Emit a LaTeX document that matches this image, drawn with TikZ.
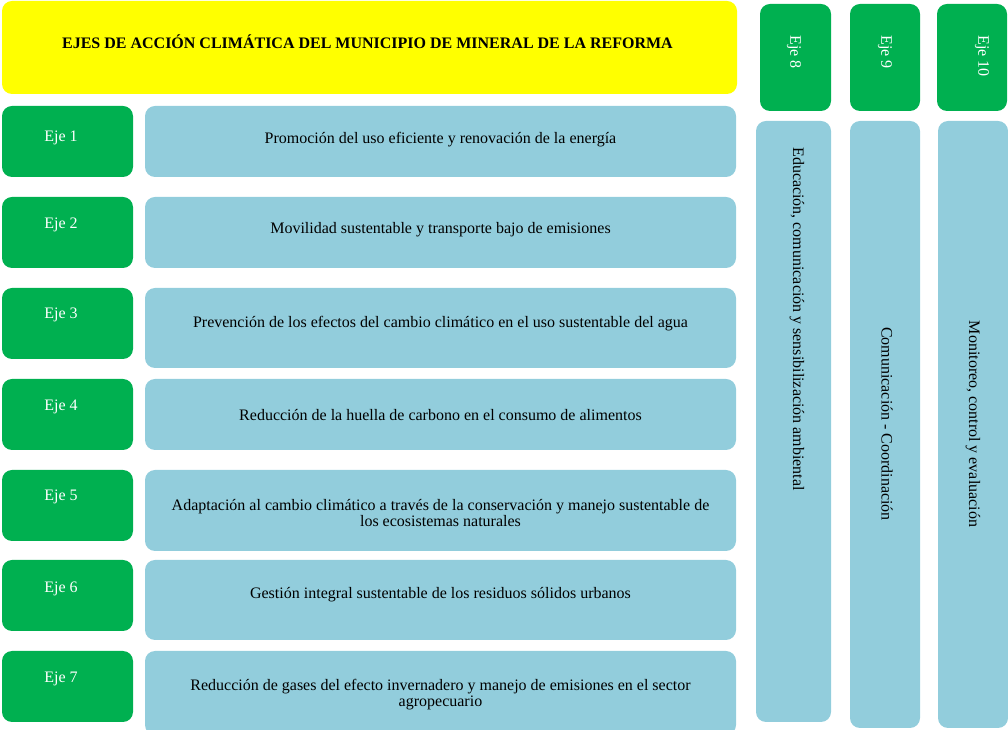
\documentclass[tikz,border=0pt]{standalone}
\usepackage{fontspec}
\setmainfont{Liberation Serif}
\usepackage{xcolor}
\usepackage{tikz}
\definecolor{ejegreen}{HTML}{00B050}
\definecolor{temablue}{HTML}{92CDDC}
\definecolor{titleyellow}{HTML}{FFFF00}
\tikzset{
  box/.style={inner sep=0pt, outer sep=0pt, rounded corners=7.5pt},
  titlebox/.style={box, fill=titleyellow, minimum width=735*0.75pt, minimum height=93*0.75pt},
  ejebox/.style={box, fill=ejegreen, minimum width=131*0.75pt, minimum height=71*0.75pt},
  ejecol/.style={box, fill=ejegreen, minimum height=107*0.75pt},
  temabox/.style={box, fill=temablue, minimum width=591*0.75pt},
  temacol/.style={box, fill=temablue},
  ejelab/.style={text=white, font=\fontsize{12}{12}\selectfont, inner sep=0pt},
  lab/.style={text=black, font=\fontsize{12}{12}\selectfont, align=center, inner sep=0pt},
  titlelab/.style={text=black, font=\fontsize{12}{12}\selectfont\bfseries, inner sep=0pt},
}

\begin{document}
\begin{tikzpicture}[x=0.75pt, y=-0.75pt]
  \useasboundingbox (0,0) rectangle (1008,730);
  % title
  \node[titlebox] (title) at (369.5,47.5) {};
  \node[titlelab] (titletxt) at (367.5,42) {EJES DE ACCIÓN CLIMÁTICA DEL MUNICIPIO DE MINERAL DE LA REFORMA};
  % ejes 1-7 (left)
  \node[ejebox] (e1) at (67.5,141.5) {};
  \node[ejebox] (e2) at (67.5,232.5) {};
  \node[ejebox] (e3) at (67.5,323.5) {};
  \node[ejebox] (e4) at (67.5,414.5) {};
  \node[ejebox] (e5) at (67.5,505.5) {};
  \node[ejebox] (e6) at (67.5,595.5) {};
  \node[ejebox] (e7) at (67.5,686.5) {};
  \node[ejelab] (e1txt) at (61,138) {Eje 1};
  \node[ejelab] (e2txt) at (61,225) {Eje 2};
  \node[ejelab] (e3txt) at (61,315) {Eje 3};
  \node[ejelab] (e4txt) at (61,407) {Eje 4};
  \node[ejelab] (e5txt) at (61,497) {Eje 5};
  \node[ejelab] (e6txt) at (61,589) {Eje 6};
  \node[ejelab] (e7txt) at (61,679) {Eje 7};
  % temas
  \node[temabox, minimum height=71*0.75pt] (t1) at (440.5,141.5) {};
  \node[temabox, minimum height=71*0.75pt] (t2) at (440.5,232.5) {};
  \node[temabox, minimum height=80*0.75pt] (t3) at (440.5,328) {};
  \node[temabox, minimum height=71*0.75pt] (t4) at (440.5,414.5) {};
  \node[temabox, minimum height=81*0.75pt] (t5) at (440.5,510.5) {};
  \node[temabox, minimum height=80*0.75pt] (t6) at (440.5,600) {};
  \node[temabox, minimum height=84*0.75pt] (t7) at (440.5,693) {};
  \node[lab] (t1txt) at (440.5,140) {Promoción del uso eficiente y renovación de la energía};
  \node[lab] (t2txt) at (440.5,230) {Movilidad sustentable y transporte bajo de emisiones};
  \node[lab] (t3txt) at (440.5,324) {Prevención de los efectos del cambio climático en el uso sustentable del agua};
  \node[lab] (t4txt) at (440.5,415) {Reducción de la huella de carbono en el consumo de alimentos};
  \node[lab] (t5txt) at (440.5,513) {Adaptación al cambio climático a través de la conservación y manejo sustentable de\\los ecosistemas naturales};
  \node[lab] (t6txt) at (440.5,595) {Gestión integral sustentable de los residuos sólidos urbanos};
  \node[lab] (t7txt) at (440.5,695) {Reducción de gases del efecto invernadero y manejo de emisiones en el sector\\agropecuario};
  % ejes 8-10 (columns)
  \node[ejecol, minimum width=71*0.75pt] (e8) at (795.5,57.5) {};
  \node[ejecol, minimum width=70*0.75pt] (e9) at (885,57.5) {};
  \node[ejecol, minimum width=70*0.75pt] (e10) at (972,57.5) {};
  \node[ejelab, rotate=-90, anchor=west] (e8txt) at (794,35) {Eje 8};
  \node[ejelab, rotate=-90, anchor=west] (e9txt) at (885,35) {Eje 9};
  \node[ejelab, rotate=-90, anchor=west] (e10txt) at (982,35) {Eje 10};
  \node[temacol, minimum width=75*0.75pt, minimum height=601*0.75pt] (c8) at (793.5,421.5) {};
  \node[temacol, minimum width=70*0.75pt, minimum height=607*0.75pt] (c9) at (885,424.5) {};
  \node[temacol, minimum width=70*0.75pt, minimum height=607*0.75pt] (c10) at (973,424.5) {};
  \node[lab, rotate=-90, anchor=west] (c8txt) at (797,147) {Educación, comunicación y sensibilización ambiental};
  \node[lab, rotate=-90] (c9txt) at (887,424) {Comunicación - Coordinación};
  \node[lab, rotate=-90] (c10txt) at (973,424) {Monitoreo, control y evaluación};
\end{tikzpicture}
\end{document}
